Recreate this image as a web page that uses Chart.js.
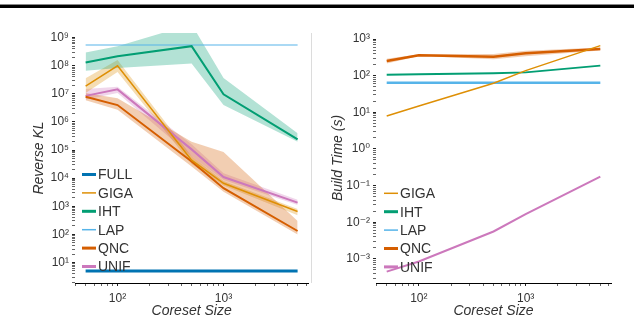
<!DOCTYPE html>
<html lang="en">
<head>
<meta charset="UTF-8">
<title>Reverse KL and build time vs coreset size</title>
<script src="https://cdn.jsdelivr.net/npm/chart.js@4.4.0/dist/chart.umd.min.js"></script>
<style>
    html, body {
        margin: 0;
        padding: 0;
        background: #fff;
        overflow: hidden;
    }
    #wrap { position: relative; width: 634px; height: 320px; }
    #topRule {
        position: absolute; left: 0; top: 4px; width: 634px; height: 3px;
        background: #000; border-top: 1px solid #888;
    }
    #klChart { position: absolute; left: 0; top: 0; }
    #timeChart { position: absolute; left: 311px; top: 0; }
</style>
</head>
<body>
<div id="wrap">
    <div id="topRule"></div>
    <canvas id="klChart" width="311" height="320"></canvas>
    <canvas id="timeChart" width="323" height="320"></canvas>
</div>

<script>
    // x values shared by both panels
    const coresetSizes = [50, 100, 500, 1000, 5000];

    // left panel: reverse KL
    const klFull = [5, 5, 5, 5, 5];
    const klLap  = [5.5e8, 5.5e8, 5.5e8, 5.5e8, 5.5e8];
    const klIht   = [1.3e8, 2.2e8, 5.0e8, 9.7e6, 2.4e5];
    const klIhtLo = [6.6e7, 8.3e7, 1.2e8, 4.0e6, 2.0e5];
    const klIhtHi = [3.0e8, 5.0e8, 3.0e9, 3.7e7, 4.0e5];
    const klGiga   = [1.9e7, 1.0e8, 4.4e4, 6.6e3, 650];
    const klGigaLo = [1.07e7, 6.0e7, 3.2e4, 5.5e3, 480];
    const klGigaHi = [3.6e7, 1.6e8, 6.0e4, 8.0e3, 800];
    const klQnc   = [7.9e6, 4.0e6, 3.9e4, 4.4e3, 132];
    const klQncLo = [6.0e6, 2.7e6, 2.6e4, 3.3e3, 100];
    const klQncHi = [1.07e7, 7.0e6, 2.0e5, 8.5e4, 300];
    const klUnif   = [8.5e6, 1.45e7, 1.06e5, 1.1e4, 1350];
    const klUnifLo = [6.3e6, 1.07e7, 6.0e4, 8.7e3, 1100];
    const klUnifHi = [1.5e7, 1.8e7, 1.6e5, 1.5e4, 1700];

    // right panel: build time (s)
    const timeGiga = [7.9, 14.8, 62, 137, 660];
    const timeIht  = [106, 110, 116, 123, 188];
    const timeLap  = [64, 64, 64, 64, 64];
    const timeQnc   = [251, 363, 330, 408, 535];
    const timeQncLo = [215, 345, 280, 340, 490];
    const timeQncHi = [290, 385, 390, 480, 590];
    const timeUnif = [4.5e-4, 8.5e-4, 5.6e-3, 0.0166, 0.176];

    // tick labels
    const xTickValues = [100, 1000];
    const xTickLabels = ['10²', '10³'];
    const klTickValues = [1e1, 1e2, 1e3, 1e4, 1e5, 1e6, 1e7, 1e8, 1e9];
    const klTickLabels = ['10¹', '10²', '10³', '10⁴', '10⁵', '10⁶', '10⁷', '10⁸', '10⁹'];
    const timeTickValues = [1e-3, 1e-2, 1e-1, 1e0, 1e1, 1e2, 1e3];
    const timeTickLabels = ['10⁻³', '10⁻²', '10⁻¹', '10⁰', '10¹', '10²', '10³'];

    const colors = {
        FULL: '#0173B2', GIGA: '#DE8F05', IHT: '#029E73',
        LAP: '#56B4E9', QNC: '#D55E00', UNIF: '#CC78BC'
    };
    const bandColors = {
        GIGA: 'rgba(222,143,5,0.3)', IHT: 'rgba(2,158,115,0.3)',
        QNC: 'rgba(213,94,0,0.3)', UNIF: 'rgba(204,120,188,0.3)'
    };

    Chart.defaults.font.family = "'Liberation Sans', 'DejaVu Sans', sans-serif";
    Chart.defaults.color = '#333';

    function pts(vals) {
        return coresetSizes.map((x, i) => ({x: x, y: vals[i]}));
    }

    function lineSet(name, vals, width) {
        return {
            label: name, data: pts(vals), borderColor: colors[name], borderWidth: width,
            pointRadius: 0, fill: false, tension: 0, order: 0
        };
    }

    // upper edge filled down to the lower edge (next dataset)
    function bandSets(name, lo, hi) {
        return [
            {label: name + ' hi', data: pts(hi), borderColor: 'rgba(0,0,0,0)', borderWidth: 1,
             pointRadius: 0, fill: '+1', backgroundColor: bandColors[name], order: 1},
            {label: name + ' lo', data: pts(lo), borderColor: 'rgba(0,0,0,0)', borderWidth: 1,
             pointRadius: 0, fill: false, order: 1}
        ];
    }

    function logTicks(lo, hi) {
        const out = [];
        for (let e = Math.floor(Math.log10(lo)); e <= Math.ceil(Math.log10(hi)); e++) {
            for (let m = 1; m <= 9; m++) {
                const v = m * Math.pow(10, e);
                if (v >= lo && v <= hi) out.push({value: v});
            }
        }
        return out;
    }

    function labelFor(values, labels) {
        return function(v) {
            for (let i = 0; i < values.length; i++) {
                if (Math.abs(v / values[i] - 1) < 1e-6) return labels[i];
            }
            return '';
        };
    }

    function isMajor(v) {
        const l = Math.log10(v);
        return Math.abs(l - Math.round(l)) < 1e-6;
    }

    const legendPlugin = {
        id: 'innerLegend',
        afterDraw(chart, args, opts) {
            const ctx = chart.ctx;
            ctx.save();
            ctx.font = '14px ' + Chart.defaults.font.family;
            ctx.textBaseline = 'middle';
            ctx.fillStyle = '#333';
            opts.names.forEach((name, i) => {
                const y = opts.y + i * opts.step;
                ctx.strokeStyle = colors[name];
                ctx.lineWidth = opts.widths[i];
                ctx.beginPath();
                ctx.moveTo(opts.x, y);
                ctx.lineTo(opts.x + 14, y);
                ctx.stroke();
                ctx.fillText(name, opts.x + 16, y + 1);
            });
            ctx.restore();
        }
    };

    const separatorPlugin = {
        id: 'separator',
        afterDraw(chart, args, opts) {
            if (!opts.show) return;
            const ctx = chart.ctx;
            ctx.save();
            ctx.strokeStyle = '#dcdcdc';
            ctx.lineWidth = 1;
            ctx.beginPath();
            ctx.moveTo(0.5, chart.chartArea.top);
            ctx.lineTo(0.5, chart.chartArea.bottom);
            ctx.stroke();
            ctx.restore();
        }
    };

    function xScale() {
        return {
            type: 'logarithmic', min: 39.7, max: 6295,
            afterBuildTicks: s => { s.ticks = logTicks(39.7, 6295); },
            afterFit: s => { s.height = 37; },
            ticks: {autoSkip: false, maxRotation: 0, padding: 5, font: {size: 12},
                    callback: labelFor(xTickValues, xTickLabels)},
            grid: {drawOnChartArea: false, drawTicks: true, tickLength: 3,
                   tickColor: c => isMajor(c.tick.value) ? '#222' : '#666'},
            border: {display: true, color: '#000', width: 1},
            title: {display: true, text: 'Coreset Size', font: {size: 14, style: 'italic'},
                    color: '#333', padding: {top: 0, bottom: 0.5}}
        };
    }

    function yScale(min, max, values, labels, width, titleText, titlePad) {
        return {
            type: 'logarithmic', min: min, max: max,
            afterBuildTicks: s => { s.ticks = logTicks(min, max); },
            afterFit: s => { s.width = width; },
            ticks: {autoSkip: false, padding: 3, font: {size: 12},
                    callback: labelFor(values, labels)},
            grid: {drawOnChartArea: false, drawTicks: true, tickLength: 3,
                   tickColor: c => isMajor(c.tick.value) ? '#222' : '#666'},
            border: {display: false},
            title: {display: true, text: titleText, font: {size: 14, style: 'italic'},
                    color: '#333', padding: {top: titlePad, bottom: 0}}
        };
    }

    const klDatasets = [
        lineSet('FULL', klFull, 3),
        lineSet('GIGA', klGiga, 1.5),
        lineSet('IHT', klIht, 2),
        lineSet('LAP', klLap, 1.2),
        lineSet('QNC', klQnc, 2),
        lineSet('UNIF', klUnif, 2)
    ].concat(
        bandSets('IHT', klIhtLo, klIhtHi),
        bandSets('QNC', klQncLo, klQncHi),
        bandSets('GIGA', klGigaLo, klGigaHi),
        bandSets('UNIF', klUnifLo, klUnifHi)
    );

    const klChart = new Chart(document.getElementById('klChart'), {
        type: 'line',
        data: {datasets: klDatasets},
        plugins: [legendPlugin],
        options: {
            responsive: false, animation: false, devicePixelRatio: 1,
            layout: {padding: {top: 33, left: 0, right: 0, bottom: 0}},
            plugins: {
                legend: {display: false}, tooltip: {enabled: false},
                innerLegend: {names: ['FULL', 'GIGA', 'IHT', 'LAP', 'QNC', 'UNIF'],
                              widths: [3, 1.5, 3, 1.5, 3, 3], x: 82, y: 174.5, step: 18.4}
            },
            scales: {
                x: xScale(),
                y: yScale(1.86, 1.47e9, klTickValues, klTickLabels, 75, 'Reverse KL', 30.6)
            }
        }
    });

    const timeDatasets = [
        lineSet('GIGA', timeGiga, 1.5),
        lineSet('IHT', timeIht, 2),
        lineSet('LAP', timeLap, 2.5),
        lineSet('QNC', timeQnc, 2.5),
        lineSet('UNIF', timeUnif, 2)
    ].concat(bandSets('QNC', timeQncLo, timeQncHi));

    const timeChart = new Chart(document.getElementById('timeChart'), {
        type: 'line',
        data: {datasets: timeDatasets},
        plugins: [legendPlugin, separatorPlugin],
        options: {
            responsive: false, animation: false, devicePixelRatio: 1,
            layout: {padding: {top: 33, left: 0, right: 23, bottom: 0}},
            plugins: {
                legend: {display: false}, tooltip: {enabled: false},
                separator: {show: true},
                innerLegend: {names: ['GIGA', 'IHT', 'LAP', 'QNC', 'UNIF'],
                              widths: [1.5, 3, 1.5, 3, 3], x: 73, y: 193.3, step: 18.4}
            },
            scales: {
                x: xScale(),
                y: yScale(2.2e-4, 1.46e3, timeTickValues, timeTickLabels, 65, 'Build Time (s)', 18.6)
            }
        }
    });
</script>
</body>
</html>
